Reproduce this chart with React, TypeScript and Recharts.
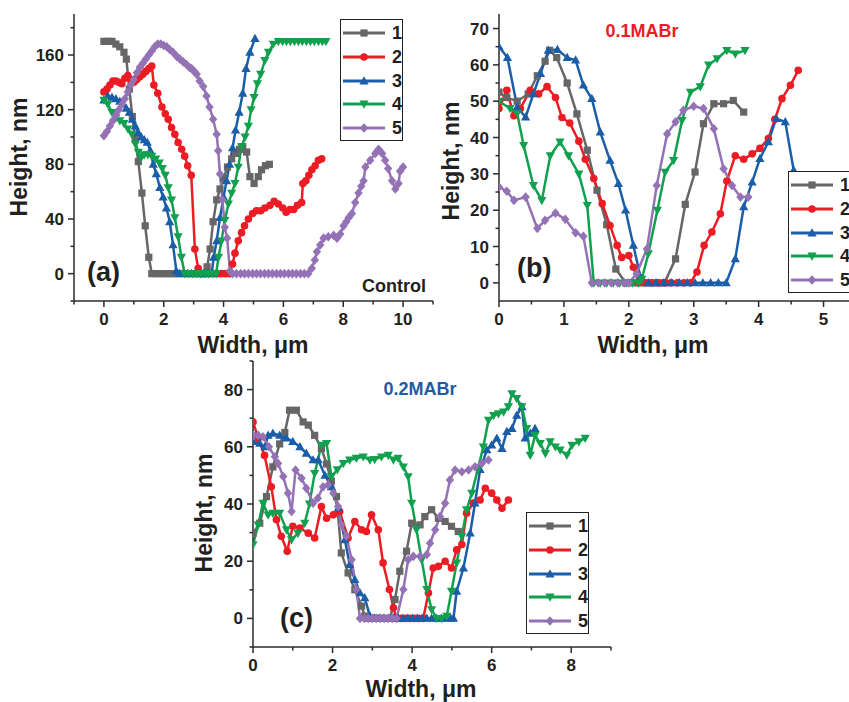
import React from 'react';
import { LineChart, Line, XAxis, YAxis } from 'recharts';

const FONT = 'Arial, "Liberation Sans", Helvetica, sans-serif';
const INK = '#231f20';
const AXIS = '#2b2b2b';

const COLORS = ['#666666', '#ec1c24', '#1a5ea9', '#11a14e', '#9472b5'];
const SHAPES = ['square', 'circle', 'triangle', 'down', 'diamond'];
const NAMES = ['1', '2', '3', '4', '5'];

// (a) Control
const a1 = [[0,170],[0.13,170],[0.27,170],[0.4,168],[0.53,166],[0.67,162],[0.75,157],[0.85,135],[0.95,115],[1.05,98],[1.15,82],[1.27,59],[1.38,35],[1.5,12],[1.6,0],[1.73,0],[1.87,0],[2.0,0],[2.13,0],[2.27,0],[2.4,0],[2.53,0],[2.67,0],[2.8,0],[2.93,0],[3.07,0],[3.2,0],[3.33,0],[3.45,5],[3.55,18],[3.65,38],[3.77,54],[3.88,62],[4.0,70],[4.13,78],[4.27,84],[4.4,88],[4.53,91],[4.64,93],[4.77,89],[4.88,71],[5.02,66],[5.16,71],[5.27,76],[5.4,79],[5.53,80]];
const a2 = [[0,133],[0.1,135],[0.2,138],[0.3,141],[0.4,141],[0.5,140],[0.6,139],[0.7,143],[0.8,145],[0.9,142],[1.0,140],[1.1,142],[1.2,144],[1.3,146],[1.4,148],[1.5,150],[1.6,152],[1.67,138],[1.8,132],[1.94,122],[2.05,117],[2.15,113],[2.26,107],[2.37,102],[2.48,96],[2.6,91],[2.7,86],[2.8,79],[2.92,72],[3.04,18],[3.15,4],[3.27,0],[3.4,0],[3.53,0],[3.67,0],[3.8,0],[3.93,0],[4.07,0],[4.2,0],[4.3,7],[4.38,15],[4.49,24],[4.6,30],[4.7,35],[4.83,40],[4.97,44],[5.1,46],[5.24,46],[5.38,48],[5.55,50],[5.69,53],[5.83,51],[5.98,48],[6.09,45],[6.22,47],[6.34,47],[6.47,50],[6.61,52],[6.65,66],[6.75,68],[6.85,72],[6.95,76],[7.06,79],[7.17,83],[7.28,84]];
const a3 = [[0,127],[0.13,130],[0.27,129],[0.4,128],[0.53,126],[0.64,124],[0.75,121],[0.85,118],[0.95,113],[1.05,108],[1.15,103],[1.25,100],[1.35,98],[1.45,96],[1.55,90],[1.65,80],[1.75,73],[1.87,63],[1.98,56],[2.09,48],[2.2,38],[2.31,21],[2.42,2],[2.53,0],[2.67,0],[2.8,0],[2.93,0],[3.07,0],[3.2,0],[3.33,0],[3.47,0],[3.6,0],[3.67,12],[3.77,24],[3.88,41],[4.0,56],[4.1,68],[4.2,80],[4.3,92],[4.4,105],[4.52,118],[4.64,132],[4.75,150],[4.88,162],[5.05,172]];
const a4 = [[0,127],[0.13,124],[0.27,118],[0.4,114],[0.53,112],[0.67,110],[0.8,106],[0.93,102],[1.05,95],[1.15,89],[1.25,85],[1.35,87],[1.47,87],[1.6,86],[1.73,84],[1.85,81],[1.95,77],[2.05,72],[2.15,63],[2.26,54],[2.37,41],[2.48,27],[2.59,12],[2.7,0],[2.83,0],[2.97,0],[3.1,0],[3.23,0],[3.37,0],[3.5,0],[3.63,0],[3.75,0],[3.83,12],[3.93,24],[4.04,39],[4.16,51],[4.27,59],[4.38,66],[4.49,78],[4.6,93],[4.72,100],[4.83,108],[4.92,120],[5.02,129],[5.13,139],[5.24,146],[5.38,156],[5.5,162],[5.66,168],[5.83,170],[5.97,170],[6.1,170],[6.23,170],[6.37,170],[6.5,170],[6.63,170],[6.77,170],[6.9,170],[7.03,170],[7.17,170],[7.3,170],[7.42,170]];
const a5 = [[0,101],[0.1,104],[0.2,108],[0.3,112],[0.4,116],[0.5,120],[0.6,124],[0.7,128],[0.8,133],[0.9,138],[1.0,142],[1.1,147],[1.2,151],[1.3,154],[1.4,157],[1.5,160],[1.6,163],[1.7,166],[1.8,168],[1.9,168],[2.0,167],[2.1,166],[2.2,164],[2.31,162],[2.43,159],[2.54,157],[2.65,155],[2.76,153],[2.85,151],[2.93,150],[3.02,148],[3.1,146],[3.2,141],[3.32,137],[3.43,130],[3.53,122],[3.65,113],[3.77,102],[3.82,90],[3.88,73],[3.96,54],[4.04,34],[4.12,26],[4.21,2],[4.3,0],[4.43,0],[4.57,0],[4.7,0],[4.83,0],[4.97,0],[5.1,0],[5.23,0],[5.37,0],[5.5,0],[5.63,0],[5.77,0],[5.9,0],[6.03,0],[6.17,0],[6.3,0],[6.43,0],[6.57,0],[6.7,0],[6.83,0],[6.95,4],[7.05,10],[7.12,16],[7.23,21],[7.34,26],[7.5,27],[7.68,28],[7.79,26],[7.9,29],[8.01,35],[8.1,38],[8.18,41],[8.29,44],[8.4,52],[8.51,59],[8.6,64],[8.68,68],[8.74,78],[8.9,83],[9.07,88],[9.18,91],[9.3,88],[9.4,83],[9.5,77],[9.63,68],[9.74,62],[9.85,66],[9.9,75],[10,78]];

// (b) 0.1MABr
const b1 = [[0,52.5],[0.12,51],[0.28,50],[0.45,52],[0.59,57],[0.71,61],[0.78,64],[0.89,62],[1.05,55],[1.2,46.5],[1.36,36.5],[1.51,25.5],[1.66,16],[1.8,3.8],[1.95,0],[2.05,0],[2.15,0],[2.25,0],[2.35,0],[2.45,0],[2.55,0],[2.72,6.6],[2.87,21.6],[3.02,30.5],[3.15,43.8],[3.31,49.3],[3.46,49.3],[3.61,50.2],[3.77,47]];
const b2 = [[0,48],[0.12,53],[0.23,46],[0.33,48],[0.48,53],[0.61,52],[0.74,54],[0.87,51],[0.97,45.5],[1.09,44],[1.23,39],[1.33,34],[1.46,28.7],[1.59,21.8],[1.71,15.8],[1.82,10.3],[1.89,7],[2.0,7.5],[2.07,4.3],[2.15,0],[2.25,0],[2.35,0],[2.45,0],[2.55,0],[2.65,0],[2.75,0],[2.85,0],[2.95,0],[3.05,3],[3.16,10.3],[3.28,14],[3.41,19],[3.51,28],[3.64,35],[3.77,34],[3.9,35.5],[4.02,37],[4.15,39.7],[4.25,45],[4.36,50.7],[4.49,54.4],[4.61,58.5]];
const b3 = [[0,65],[0.13,62],[0.28,48.4],[0.41,45.6],[0.53,52],[0.64,57.6],[0.76,64],[0.9,64.2],[1.05,62],[1.18,61.3],[1.3,54.4],[1.43,50.7],[1.56,41.5],[1.71,33.7],[1.84,27.3],[1.95,20],[2.07,10.3],[2.18,1.6],[2.3,0],[2.42,0],[2.54,0],[2.66,0],[2.78,0],[2.9,0],[3.02,0],[3.14,0],[3.26,0],[3.38,0],[3.5,0],[3.64,6.6],[3.77,20.9],[3.9,27.7],[4.02,34.2],[4.15,38.8],[4.27,45.2],[4.41,44.3],[4.54,31],[4.62,22]];
const b4 = [[0,50],[0.17,48],[0.28,46.6],[0.38,37.8],[0.53,26.8],[0.66,22.7],[0.79,35],[0.94,38.8],[1.07,35],[1.23,30],[1.36,21.3],[1.46,0],[1.56,0],[1.66,0],[1.76,0],[1.86,0],[1.96,0],[2.06,0],[2.15,0],[2.2,1],[2.3,8],[2.44,20],[2.56,30.5],[2.69,33.7],[2.82,44.7],[2.95,52.5],[3.1,54],[3.23,60],[3.36,61.7],[3.51,64],[3.64,63],[3.79,64]];
const b5 = [[0,26.4],[0.12,25.2],[0.23,22.7],[0.41,23.6],[0.59,15],[0.71,17.2],[0.87,19.2],[1.02,17.5],[1.18,13.8],[1.3,12.8],[1.43,0],[1.53,0],[1.63,0],[1.73,0],[1.83,0],[1.93,0],[2.0,0],[2.12,2.5],[2.28,9.4],[2.43,26.8],[2.59,41],[2.72,44.3],[2.84,47.5],[3.0,48.6],[3.15,48],[3.31,42.4],[3.46,31.4],[3.59,26.8],[3.72,23.6],[3.84,23.6]];

// (c) 0.2MABr
const c1 = [[0,29.8],[0.17,33.3],[0.34,42.6],[0.5,53],[0.67,61],[0.8,65],[0.92,72.8],[1.09,72.8],[1.26,68.7],[1.39,67.6],[1.55,64],[1.72,59.4],[1.85,54],[1.97,48],[2.1,42.6],[2.22,22.9],[2.39,15.9],[2.56,10],[2.73,4.3],[2.81,0.8],[2.9,0],[3.0,0],[3.1,0],[3.2,0],[3.3,0],[3.44,0],[3.57,6.6],[3.69,16.5],[3.86,23.5],[3.99,33.3],[4.2,32.7],[4.32,35.6],[4.49,38],[4.66,35],[4.83,33.9],[4.99,32.2],[5.16,30.4]];
const c2 = [[0,68.7],[0.13,63],[0.29,57],[0.46,46],[0.59,34.5],[0.71,28.7],[0.86,23.5],[1.0,32.2],[1.18,31.6],[1.39,29.8],[1.55,28.1],[1.72,39.1],[1.85,35],[2.02,36.2],[2.18,37.4],[2.39,28.1],[2.56,33.9],[2.73,31],[2.85,30.4],[2.98,36.2],[3.15,31],[3.27,19.4],[3.43,10.1],[3.53,3.7],[3.61,0],[3.72,0],[3.83,0],[3.94,0],[4.05,0],[4.16,0],[4.28,0],[4.41,8.9],[4.53,17.6],[4.66,18.2],[4.83,20],[4.99,17.6],[5.12,24],[5.25,25.8],[5.37,36.8],[5.54,40.3],[5.71,41.4],[5.84,45.5],[6.0,43.8],[6.13,41.4],[6.26,38.5],[6.42,41.4]];
const c3 = [[0,61.8],[0.17,61.2],[0.3,60],[0.38,64],[0.5,64.7],[0.67,64],[0.84,63],[1.0,61.8],[1.18,60],[1.34,57.7],[1.51,55.4],[1.64,55.4],[1.81,50],[1.97,46],[2.14,38.5],[2.31,27.5],[2.43,18.8],[2.56,13.6],[2.69,8.9],[2.81,7.2],[2.94,0.8],[3.05,0],[3.17,0],[3.29,0],[3.41,0],[3.53,0],[3.65,0],[3.77,0],[3.89,0],[4.01,0],[4.13,0],[4.25,0],[4.37,0],[4.49,0],[4.61,0],[4.73,0],[4.85,0],[4.97,0],[5.04,0],[5.12,9.5],[5.29,17.6],[5.46,29.8],[5.58,40.3],[5.71,52],[5.88,58.9],[6.0,60.6],[6.13,63],[6.26,59.4],[6.38,65.3],[6.51,66.4],[6.63,71],[6.76,74],[6.84,63],[6.97,64.7],[7.09,66.4]];
const c4 = [[0,25.8],[0.13,32.7],[0.25,40.3],[0.38,36.2],[0.5,36.8],[0.67,36.8],[0.84,31],[0.97,27.5],[1.13,29.8],[1.3,33.3],[1.42,40],[1.55,50.7],[1.72,60.6],[1.85,61.2],[1.97,49.6],[2.12,52],[2.27,54.2],[2.43,55.4],[2.6,56],[2.77,56.5],[2.94,55.4],[3.06,55.6],[3.23,56.5],[3.4,57.1],[3.53,55.4],[3.65,56],[3.78,53],[3.9,49.6],[3.99,40.3],[4.11,31],[4.24,20.5],[4.37,10.1],[4.49,3.1],[4.62,0],[4.74,0],[4.87,0.8],[4.99,9.5],[5.12,19.4],[5.25,28.7],[5.37,38],[5.5,43.8],[5.65,52],[5.79,60],[5.92,69.3],[6.05,71],[6.17,71.6],[6.3,72.2],[6.42,74],[6.51,78.6],[6.63,76.9],[6.76,74],[6.88,66.4],[6.97,57.1],[7.09,64],[7.22,61.2],[7.35,57.7],[7.47,61.8],[7.6,60],[7.72,58.9],[7.89,57.1],[8.02,60.6],[8.19,61.8],[8.35,63]];
const c5 = [[0,64],[0.13,64],[0.25,63.5],[0.4,60],[0.55,56.5],[0.63,54.2],[0.76,49.6],[0.88,43.8],[0.97,37.4],[1.07,51.9],[1.22,49],[1.34,45.5],[1.51,40.3],[1.63,42],[1.76,46],[1.89,46.7],[2.02,43.8],[2.14,39.1],[2.22,32.7],[2.35,28.7],[2.48,20.5],[2.6,10.1],[2.69,0],[2.8,0],[2.9,0],[3.0,0],[3.1,0],[3.2,0],[3.3,0],[3.4,0],[3.5,0],[3.61,0],[3.78,10.1],[3.9,20.5],[4.03,21.7],[4.2,21.7],[4.37,22.3],[4.45,26.3],[4.58,31],[4.7,35.6],[4.83,40.3],[4.95,48.4],[5.08,51.9],[5.25,51.3],[5.42,51.9],[5.58,53],[5.75,54.2],[5.92,55.4]];

const aTicksX = [-1,0,1,2,3,4,5,6,7,8,9,10,11];
const aMajorX = [0,2,4,6,8,10];
const aTicksY = [-20,0,20,40,60,80,100,120,140,160,180];
const aMajorY = [0,40,80,120,160];

const bTicksX = [0,0.5,1,1.5,2,2.5,3,3.5,4,4.5,5];
const bMajorX = [0,1,2,3,4,5];
const bTicksY = [0,5,10,15,20,25,30,35,40,45,50,55,60,65,70];
const bMajorY = [0,10,20,30,40,50,60,70];

const cTicksX = [0,1,2,3,4,5,6,7,8,9];
const cMajorX = [0,2,4,6,8];
const cTicksY = [-10,0,10,20,30,40,50,60,70,80,90];
const cMajorY = [0,20,40,60,80];

const toPts = (arr: number[][]) => arr.map(([x, y]) => ({ x, y }));

function drawMarker(shape: string, cx: number, cy: number, color: string, key?: any) {
  if (shape === 'square') return <rect key={key} x={cx - 3.6} y={cy - 3.6} width={7.2} height={7.2} fill={color} />;
  if (shape === 'circle') return <circle key={key} cx={cx} cy={cy} r={3.8} fill={color} />;
  if (shape === 'triangle')
    return <polygon key={key} points={`${cx},${cy - 4.8} ${cx - 4.6},${cy + 3.4} ${cx + 4.6},${cy + 3.4}`} fill={color} />;
  if (shape === 'down')
    return <polygon key={key} points={`${cx},${cy + 4.8} ${cx - 4.6},${cy - 3.4} ${cx + 4.6},${cy - 3.4}`} fill={color} />;
  return <polygon key={key} points={`${cx},${cy - 4.8} ${cx + 4.2},${cy} ${cx},${cy + 4.8} ${cx - 4.2},${cy}`} fill={color} />;
}

const dotFor = (shape: string, color: string) => (p: any) => {
  if (p.cx == null || p.cy == null) return <g key={p.index} />;
  return drawMarker(shape, p.cx, p.cy, color, p.index);
};

const xTick = (axisY: number, majors: number[]) => (p: any) => {
  const major = majors.includes(p.payload.value);
  return (
    <g key={p.index}>
      <line x1={p.x} x2={p.x} y1={axisY} y2={axisY + (major ? 6 : 3.5)} stroke={AXIS} strokeWidth={1.5} />
      {major && (
        <text x={p.x} y={axisY + 24} textAnchor="middle" fontFamily={FONT} fontWeight="bold" fontSize={17} fill={INK}>
          {p.payload.value}
        </text>
      )}
    </g>
  );
};

const yTick = (axisX: number, majors: number[]) => (p: any) => {
  const major = majors.includes(p.payload.value);
  return (
    <g key={p.index}>
      <line x1={axisX - (major ? 6 : 3.5)} x2={axisX} y1={p.y} y2={p.y} stroke={AXIS} strokeWidth={1.5} />
      {major && (
        <text x={axisX - 10} y={p.y + 6} textAnchor="end" fontFamily={FONT} fontWeight="bold" fontSize={17} fill={INK}>
          {p.payload.value}
        </text>
      )}
    </g>
  );
};

type PanelProps = {
  left: number;
  top: number;
  width: number;
  height: number;
  margin: { top: number; right: number; bottom: number; left: number };
  xDomain: number[];
  yDomain: number[];
  xTicks: number[];
  xMajor: number[];
  yTicks: number[];
  yMajor: number[];
  series: number[][][];
};

function Panel(p: PanelProps) {
  const axisY = p.height - p.margin.bottom - 30;
  const axisX = p.margin.left + 50;
  const line = { stroke: AXIS, strokeWidth: 1.5 };
  return (
    <div style={{ position: 'absolute', left: p.left, top: p.top }}>
      <LineChart width={p.width} height={p.height} margin={p.margin}>
        <XAxis xAxisId="b" type="number" dataKey="x" domain={p.xDomain} allowDataOverflow ticks={p.xTicks}
          interval={0} tick={xTick(axisY, p.xMajor)} tickLine={false} axisLine={line} height={30} />
        <XAxis xAxisId="t" orientation="top" type="number" dataKey="x" domain={p.xDomain} allowDataOverflow
          tick={false} tickLine={false} axisLine={line} height={0} />
        <YAxis yAxisId="l" type="number" domain={p.yDomain} allowDataOverflow ticks={p.yTicks}
          interval={0} tick={yTick(axisX, p.yMajor)} tickLine={false} axisLine={line} width={50} />
        <YAxis yAxisId="r" orientation="right" type="number" domain={p.yDomain} allowDataOverflow
          tick={false} tickLine={false} axisLine={line} width={0} />
        {p.series.map((s, i) => (
          <Line key={i} xAxisId="b" yAxisId="l" data={toPts(s)} dataKey="y" name={NAMES[i]} type="linear"
            stroke={COLORS[i]} strokeWidth={2.5} dot={dotFor(SHAPES[i], COLORS[i])} activeDot={false}
            isAnimationActive={false} />
        ))}
      </LineChart>
    </div>
  );
}

function LegendBox({ left, top, width }: { left: number; top: number; width: number }) {
  return (
    <div style={{ position: 'absolute', left, top, width, height: 122, border: '1.5px solid #222',
      background: '#fff', boxSizing: 'border-box' }}>
      {NAMES.map((n, i) => (
        <div key={n} style={{ position: 'absolute', left: 2, top: 2 + i * 23.8, height: 22, display: 'flex', alignItems: 'center' }}>
          <svg width={42} height={12}>
            <line x1={0} x2={42} y1={6} y2={6} stroke={COLORS[i]} strokeWidth={3} />
            {drawMarker(SHAPES[i], 21, 6, COLORS[i])}
          </svg>
          <span style={{ marginLeft: 7, font: `bold 18px ${FONT}`, color: INK, lineHeight: '22px' }}>{n}</span>
        </div>
      ))}
    </div>
  );
}

function Txt({ x, y, size, color = INK, rotate = false, anchor = 'center', children }: any) {
  const tx = anchor === 'center' ? '-50%' : anchor === 'right' ? '-100%' : '0';
  return (
    <div style={{ position: 'absolute', left: x, top: y, whiteSpace: 'nowrap', font: `bold ${size}px ${FONT}`,
      color, lineHeight: 1, transform: `translate(${tx}, -50%)${rotate ? ' rotate(-90deg)' : ''}` }}>
      {children}
    </div>
  );
}

export default function App() {
  return (
    <div style={{ position: 'absolute', left: 0, top: 0, width: 849, height: 702, overflow: 'hidden', background: '#fff' }}>
      <Panel left={0} top={0} width={445} height={360} margin={{ top: 14, right: 12, bottom: 29, left: 24 }}
        xDomain={[-1, 11]} yDomain={[-20, 190]} xTicks={aTicksX} xMajor={aMajorX} yTicks={aTicksY} yMajor={aMajorY}
        series={[a1, a2, a3, a4, a5]} />
      <Panel left={440} top={0} width={430} height={360} margin={{ top: 14, right: 14, bottom: 29, left: 9 }}
        xDomain={[0, 5.5]} yDomain={[-5, 74]} xTicks={bTicksX} xMajor={bMajorX} yTicks={bTicksY} yMajor={bMajorY}
        series={[b1, b2, b3, b4, b5]} />
      <Panel left={200} top={350} width={420} height={352} margin={{ top: 11, right: 9, bottom: 25, left: 3 }}
        xDomain={[0, 9]} yDomain={[-10, 90]} xTicks={cTicksX} xMajor={cMajorX} yTicks={cTicksY} yMajor={cMajorY}
        series={[c1, c2, c3, c4, c5]} />

      <LegendBox left={340} top={19} width={63} />
      <LegendBox left={788} top={171} width={70} />
      <LegendBox left={526} top={512} width={63} />

      <Txt x={19} y={157} size={23} rotate>Height, nm</Txt>
      <Txt x={253} y={345} size={23}>Width, μm</Txt>
      <Txt x={451} y={161} size={23} rotate>Height, nm</Txt>
      <Txt x={653} y={345} size={23}>Width, μm</Txt>
      <Txt x={204} y={513} size={23} rotate>Height, nm</Txt>
      <Txt x={421} y={689} size={23}>Width, μm</Txt>

      <Txt x={87} y={272} size={27} anchor="left">(a)</Txt>
      <Txt x={517} y={268} size={27} anchor="left">(b)</Txt>
      <Txt x={280} y={618} size={27} anchor="left">(c)</Txt>

      <Txt x={426} y={286} size={18} anchor="right">Control</Txt>
      <Txt x={642} y={31} size={18} color="#ec1c24">0.1MABr</Txt>
      <Txt x={420} y={389} size={18} color="#1f5aa6">0.2MABr</Txt>
    </div>
  );
}
